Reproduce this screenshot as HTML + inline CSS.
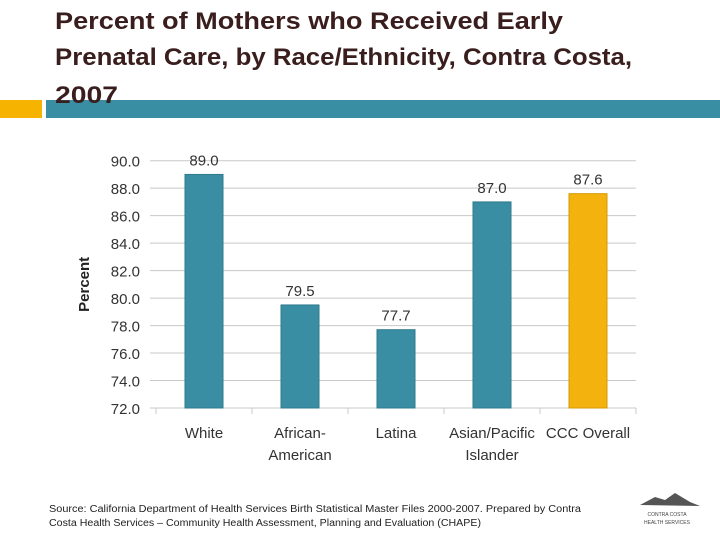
<!DOCTYPE html>
<html><head><meta charset="utf-8"><style>
html,body{margin:0;padding:0;background:#fff;width:720px;height:540px;overflow:hidden}
svg{display:block;font-family:"Liberation Sans",sans-serif}
</style></head><body>
<svg id="c" width="720" height="540" viewBox="0 0 720 540">
<g fill="#3a1e1e" font-weight="bold" font-size="24">
<text x="55" y="29" textLength="508" lengthAdjust="spacingAndGlyphs">Percent of Mothers who Received Early</text>
<text x="55" y="65" textLength="577" lengthAdjust="spacingAndGlyphs">Prenatal Care, by Race/Ethnicity, Contra Costa,</text>
</g>
<rect x="0" y="100" width="42" height="18" fill="#f6b300"/>
<rect x="46" y="100" width="674" height="18" fill="#3a8ea3"/>
<text x="55" y="103" fill="#3a1e1e" font-weight="bold" font-size="24" textLength="63" lengthAdjust="spacingAndGlyphs">2007</text>
<g id="plot"></g>
<text x="49" y="512" font-size="10" fill="#222" textLength="532" lengthAdjust="spacingAndGlyphs">Source: California Department of Health Services Birth Statistical Master Files 2000-2007.  Prepared by Contra</text>
<text x="49" y="526" font-size="10" fill="#222" textLength="432" lengthAdjust="spacingAndGlyphs">Costa Health Services – Community Health Assessment, Planning and Evaluation (CHAPE)</text>
<g>
<path d="M640 505 L655 497 L665 500 L675 493 L690 502 L700 506 Z" fill="#555"/>
<text x="667" y="516" font-size="5" text-anchor="middle" fill="#444">CONTRA COSTA</text>
<text x="667" y="524" font-size="5" text-anchor="middle" fill="#444">HEALTH SERVICES</text>
</g>
</svg>
<script>
const categories=["White","African-|American","Latina","Asian/Pacific|Islander","CCC Overall"];
const values=[89.0,79.5,77.7,87.0,87.6];
const valueLabels=["89.0","79.5","77.7","87.0","87.6"];
const ticks=[72,74,76,78,80,82,84,86,88,90];
const NS="http://www.w3.org/2000/svg";
const g=document.getElementById("plot");
const x0=156,x1=636,yTop=160.7,yBot=408,vMin=72,vMax=90;
const bw=(x1-x0)/categories.length;
function y(v){return yBot-(v-vMin)/(vMax-vMin)*(yBot-yTop);}
function xc(i){return x0+bw*(i+0.5);}
function mk(t,a,txt){const e=document.createElementNS(NS,t);for(const k in a)e.setAttribute(k,a[k]);if(txt!=null)e.textContent=txt;g.appendChild(e);return e;}
ticks.forEach(t=>{
 const l=mk("line",{x1:150,x2:x1,y1:y(t),y2:y(t),stroke:"#c8c8c8","stroke-width":1});
 
 
 const tx=mk("text",{x:140,y:y(t)+6,"text-anchor":"end","font-size":15,fill:"#333"},t.toFixed(1));
 
 
});
for(let i=0;i<=categories.length;i++){
 const s=mk("line",{x1:x0+bw*i,x2:x0+bw*i,y1:yBot,y2:yBot+6,stroke:"#c8c8c8"});
 
 
}
const yt=mk("text",{x:89,y:(yTop+yBot)/2,"text-anchor":"middle","font-size":15,"font-weight":"bold",fill:"#222",transform:"rotate(-90 89 "+((yTop+yBot)/2)+")"},"Percent");


values.forEach((v,i)=>{
 const w=38,cx=xc(i);
 const col=i===4?"#f4b20f":"#3a8ea3";
 const b=mk("rect",{x:cx-w/2,y:y(v),width:w,height:yBot-y(v),fill:col,stroke:i===4?"#d39a00":"#2f7a8d","stroke-width":1});
 
 
 const lb=mk("text",{x:cx,y:y(v)-9,"text-anchor":"middle","font-size":15,fill:"#333"},valueLabels[i]);
 
 
 categories[i].split("|").forEach((p,k)=>{
  const c=mk("text",{x:cx,y:438+k*22,"text-anchor":"middle","font-size":15,fill:"#333"},p);
  
  
 });
});
</script>
</body></html>
